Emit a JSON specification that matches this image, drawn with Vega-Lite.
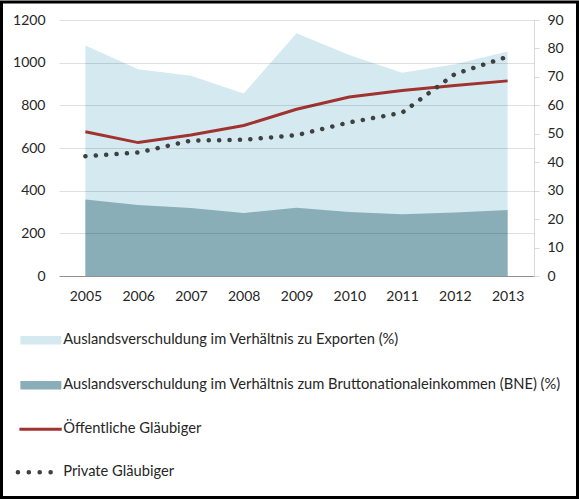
{
  "$schema": "https://vega.github.io/schema/vega-lite/v6.json",
  "width": 576,
  "height": 495.5,
  "autosize": {"type": "none"},
  "padding": {"left": 1.5, "top": 2, "right": 1.5, "bottom": 1.5},
  "background": "white",
  "config": {
    "view": {"stroke": "black", "strokeWidth": 3},
    "font": "Lato",
    "axis": {"labelFont": "Lato", "labelFontSize": 14, "labelColor": "#262626", "title": null}
  },
  "data": {
    "values": [
      {"year": "2005", "series": "Auslandsverschuldung im Verhältnis zu Exporten (%)", "value": 1080},
      {"year": "2006", "series": "Auslandsverschuldung im Verhältnis zu Exporten (%)", "value": 969},
      {"year": "2007", "series": "Auslandsverschuldung im Verhältnis zu Exporten (%)", "value": 939},
      {"year": "2008", "series": "Auslandsverschuldung im Verhältnis zu Exporten (%)", "value": 856},
      {"year": "2009", "series": "Auslandsverschuldung im Verhältnis zu Exporten (%)", "value": 1138},
      {"year": "2010", "series": "Auslandsverschuldung im Verhältnis zu Exporten (%)", "value": 1036},
      {"year": "2011", "series": "Auslandsverschuldung im Verhältnis zu Exporten (%)", "value": 953},
      {"year": "2012", "series": "Auslandsverschuldung im Verhältnis zu Exporten (%)", "value": 992},
      {"year": "2013", "series": "Auslandsverschuldung im Verhältnis zu Exporten (%)", "value": 1052},
      {"year": "2005", "series": "Auslandsverschuldung im Verhältnis zum Bruttonationaleinkommen (BNE) (%)", "value": 359},
      {"year": "2006", "series": "Auslandsverschuldung im Verhältnis zum Bruttonationaleinkommen (BNE) (%)", "value": 333},
      {"year": "2007", "series": "Auslandsverschuldung im Verhältnis zum Bruttonationaleinkommen (BNE) (%)", "value": 319},
      {"year": "2008", "series": "Auslandsverschuldung im Verhältnis zum Bruttonationaleinkommen (BNE) (%)", "value": 295},
      {"year": "2009", "series": "Auslandsverschuldung im Verhältnis zum Bruttonationaleinkommen (BNE) (%)", "value": 320},
      {"year": "2010", "series": "Auslandsverschuldung im Verhältnis zum Bruttonationaleinkommen (BNE) (%)", "value": 300},
      {"year": "2011", "series": "Auslandsverschuldung im Verhältnis zum Bruttonationaleinkommen (BNE) (%)", "value": 289},
      {"year": "2012", "series": "Auslandsverschuldung im Verhältnis zum Bruttonationaleinkommen (BNE) (%)", "value": 298},
      {"year": "2013", "series": "Auslandsverschuldung im Verhältnis zum Bruttonationaleinkommen (BNE) (%)", "value": 309},
      {"year": "2005", "series": "Öffentliche Gläubiger", "value": 50.7},
      {"year": "2006", "series": "Öffentliche Gläubiger", "value": 46.9},
      {"year": "2007", "series": "Öffentliche Gläubiger", "value": 49.6},
      {"year": "2008", "series": "Öffentliche Gläubiger", "value": 52.9},
      {"year": "2009", "series": "Öffentliche Gläubiger", "value": 58.6},
      {"year": "2010", "series": "Öffentliche Gläubiger", "value": 62.9},
      {"year": "2011", "series": "Öffentliche Gläubiger", "value": 65.2},
      {"year": "2012", "series": "Öffentliche Gläubiger", "value": 67.0},
      {"year": "2013", "series": "Öffentliche Gläubiger", "value": 68.6},
      {"year": "2005", "series": "Private Gläubiger", "value": 42.1},
      {"year": "2006", "series": "Private Gläubiger", "value": 43.4},
      {"year": "2007", "series": "Private Gläubiger", "value": 47.6},
      {"year": "2008", "series": "Private Gläubiger", "value": 47.9},
      {"year": "2009", "series": "Private Gläubiger", "value": 49.5},
      {"year": "2010", "series": "Private Gläubiger", "value": 54.0},
      {"year": "2011", "series": "Private Gläubiger", "value": 57.4},
      {"year": "2012", "series": "Private Gläubiger", "value": 71.0},
      {"year": "2013", "series": "Private Gläubiger", "value": 77.1}
    ]
  },
  "encoding": {
    "x": {
      "field": "year", "type": "ordinal",
      "scale": {"type": "point", "padding": 0.5, "range": [57.5, 532.5]},
      "axis": {"labelAngle": 0, "offset": -221.5, "domainColor": "#a6a6a6", "domainWidth": 1, "ticks": false, "labelPadding": 13, "grid": false}
    },
    "color": {
      "field": "series", "type": "nominal",
      "scale": {
        "domain": ["Auslandsverschuldung im Verhältnis zu Exporten (%)", "Auslandsverschuldung im Verhältnis zum Bruttonationaleinkommen (BNE) (%)", "Öffentliche Gläubiger", "Private Gläubiger"],
        "range": ["#d5eaf0", "#8aaeb7", "#a0322f", "#404040"]
      },
      "legend": {
        "title": null,
        "orient": "none",
        "legendX": 32,
        "legendY": 331,
        "direction": "vertical",
        "padding": 0,
        "symbolSize": 1444,
        "rowPadding": 26,
        "labelFont": "Lato",
        "labelFontSize": 14.7,
        "labelColor": "#262626",
        "labelOffset": 15,
        "labelLimit": 700,
        "encode": {
          "symbols": {
            "update": {
              "shape": {"signal": "datum.value == 'Öffentliche Gläubiger' ? 'M-1.13,0H1.1' : (datum.value == 'Private Gläubiger' ? 'M-1.21,0H0.55' : 'M-1,-0.145H1V0.145H-1Z')"},
              "fill": {"signal": "datum.value == 'Auslandsverschuldung im Verhältnis zu Exporten (%)' ? '#d5eaf0' : (datum.value == 'Auslandsverschuldung im Verhältnis zum Bruttonationaleinkommen (BNE) (%)' ? '#a4bcc3' : 'transparent')"},
              "stroke": {"signal": "datum.value == 'Öffentliche Gläubiger' ? '#a0322f' : (datum.value == 'Private Gläubiger' ? '#404040' : 'transparent')"},
              "strokeWidth": {"signal": "datum.value == 'Private Gläubiger' ? 4.5 : 3"},
              "strokeDash": {"signal": "datum.value == 'Private Gläubiger' ? [0.1, 10.8] : []"},
              "strokeCap": {"signal": "datum.value == 'Private Gläubiger' ? 'round' : 'butt'"},
              "opacity": {"value": 1}
            }
          }
        }
      }
    }
  },
  "layer": [
    {
      "layer": [
        {
          "transform": [{"filter": "datum.series == 'Auslandsverschuldung im Verhältnis zu Exporten (%)'"}],
          "mark": {"type": "area", "opacity": 1},
          "encoding": {
            "y": {
              "field": "value", "type": "quantitative", "stack": null,
              "scale": {"domain": [0, 1200], "range": [274, 18], "nice": false, "zero": true},
              "axis": {
                "orient": "left", "offset": -57.5, "values": [0, 200, 400, 600, 800, 1000, 1200], "format": "d",
                "grid": true, "gridColor": "#000000", "gridOpacity": 0.12, "domain": false, "ticks": false,
                "labelPadding": 14, "zindex": 1
              }
            }
          }
        },
        {
          "transform": [{"filter": "datum.series == 'Auslandsverschuldung im Verhältnis zum Bruttonationaleinkommen (BNE) (%)'"}],
          "mark": {"type": "area", "opacity": 1},
          "encoding": {
            "y": {"field": "value", "type": "quantitative", "stack": null}
          }
        }
      ]
    },
    {
      "layer": [
        {
          "transform": [{"filter": "datum.series == 'Öffentliche Gläubiger'"}],
          "mark": {"type": "line", "strokeWidth": 3},
          "encoding": {
            "y": {
              "field": "value", "type": "quantitative",
              "scale": {"domain": [0, 90], "range": [274, 18], "nice": false},
              "axis": {
                "orient": "right", "offset": -43.5, "values": [0, 10, 20, 30, 40, 50, 60, 70, 80, 90],
                "grid": false, "domain": true, "domainColor": "#d9d9d9", "ticks": true, "tickColor": "#d9d9d9",
                "tickSize": 5, "labelPadding": 8
              }
            }
          }
        },
        {
          "transform": [{"filter": "datum.series == 'Private Gläubiger'"}],
          "mark": {"type": "line", "strokeWidth": 4.5, "strokeDash": [0.1, 10.3], "strokeCap": "round"},
          "encoding": {
            "y": {"field": "value", "type": "quantitative"}
          }
        }
      ]
    }
  ],
  "resolve": {"scale": {"y": "independent"}}
}
